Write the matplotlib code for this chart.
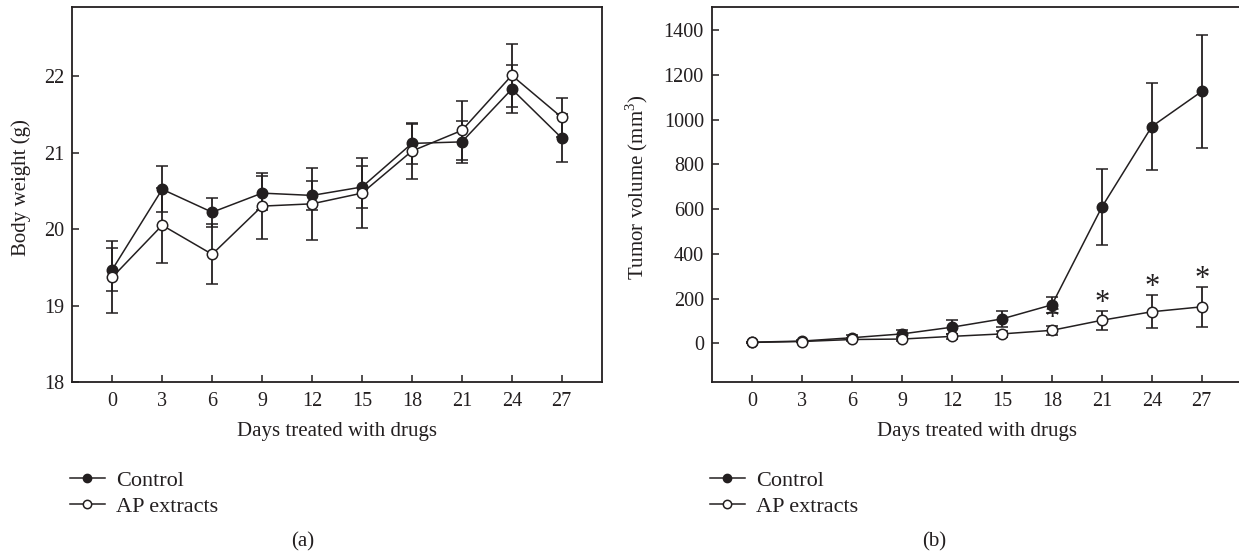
import matplotlib
matplotlib.use("Agg")
import matplotlib.pyplot as plt
from matplotlib.lines import Line2D

plt.rcParams['font.family'] = ['Liberation Serif', 'DejaVu Serif']
plt.rcParams['mathtext.fontset'] = 'custom'
plt.rcParams['mathtext.rm'] = 'Liberation Serif'

days = [0, 3, 6, 9, 12, 15, 18, 21, 24, 27]

# Panel (a): body weight (g)
bw_control = [19.47, 20.52, 20.22, 20.47, 20.44, 20.55, 21.12, 21.14, 21.83, 21.19]
bw_control_err = [0.28, 0.30, 0.19, 0.22, 0.19, 0.27, 0.27, 0.27, 0.31, 0.31]
bw_ap = [19.37, 20.05, 19.67, 20.30, 20.33, 20.47, 21.02, 21.29, 22.01, 21.46]
bw_ap_err = [0.47, 0.49, 0.39, 0.43, 0.47, 0.46, 0.36, 0.39, 0.41, 0.26]

# Panel (b): tumor volume (mm^3)
tv_control = [5, 10, 25, 42, 72, 109, 172, 609, 969, 1126]
tv_control_err = [3, 5, 12, 18, 31, 35, 35, 168, 193, 253]
tv_ap = [4, 8, 17, 19, 31, 42, 58, 103, 141, 163]
tv_ap_err = [3, 4, 8, 8, 12, 12, 21, 42, 73, 89]
star_days = [18, 21, 24, 27]

labels = ["Control", "AP extracts"]
xticks = days
bw_yticks = [18, 19, 20, 21, 22]
tv_yticks = [0, 200, 400, 600, 800, 1000, 1200, 1400]

INK = '#231f20'
W, H = 1239, 554
fig = plt.figure(figsize=(W / 100, H / 100), dpi=100)

def px_axes(l, r, t, b):
    return fig.add_axes([l / W, 1 - b / H, (r - l) / W, (b - t) / H])

ax1 = px_axes(72.3, 601.7, 7.3, 382.0)
ax2 = px_axes(712.3, 1241.7, 7.3, 382.0)

def draw(ax, y1, e1, y2, e2):
    common = dict(color=INK, lw=1.1, elinewidth=1.3, capsize=4.2, capthick=1.3,
                  ms=7.5, mew=1.1, mec=INK)
    ax.errorbar(days, y1, yerr=e1, fmt='-o', mfc=INK, zorder=3, **common)
    ax.errorbar(days, y2, yerr=e2, fmt='-o', mfc='white', zorder=4, **common)
    ax.set_xticks(xticks)
    ax.set_xlim(-2.4, 29.4)
    ax.tick_params(direction='in', length=5, width=1.1, colors=INK, labelsize=14.5,
                   pad=7)
    ax.tick_params(axis='y', pad=6)
    for s in ax.spines.values():
        s.set_linewidth(1.3)
        s.set_color(INK)
    ax.set_xlabel("Days treated with drugs", fontsize=15, color=INK, labelpad=8)
    h = [Line2D([], [], color=INK, lw=1.1, marker='o', ms=6, mfc=INK, mec=INK),
         Line2D([], [], color=INK, lw=1.1, marker='o', ms=6, mfc='white', mec=INK, mew=1.1)]
    ax.legend(h, labels, loc='upper left', bbox_to_anchor=(-0.005, -0.235),
              frameon=False, fontsize=16, handlelength=1.6, handletextpad=0.5,
              labelspacing=0.25, borderaxespad=0, borderpad=0, labelcolor=INK)

draw(ax1, bw_control, bw_control_err, bw_ap, bw_ap_err)
ax1.set_ylim(18, 22.9)
ax1.set_yticks(bw_yticks)
ax1.set_ylabel("Body weight (g)", fontsize=15, color=INK)
ax1.yaxis.set_label_coords(-0.078, 0.52)

draw(ax2, tv_control, tv_control_err, tv_ap, tv_ap_err)
ax2.set_ylim(-173, 1502)
ax2.set_yticks(tv_yticks)
ax2.set_ylabel("Tumor volume (mm$^3$)", fontsize=15, color=INK)
ax2.yaxis.set_label_coords(-0.118, 0.52)

for d in star_days:
    i = days.index(d)
    ax2.annotate("*", xy=(d, tv_ap[i] + tv_ap_err[i]), xytext=(0, -5),
                 textcoords='offset points', ha='center', va='bottom',
                 fontsize=22, color=INK)

fig.text(303 / W, 1 - 542 / H, "(a)", ha='center', va='center', fontsize=15, color=INK)
fig.text(934 / W, 1 - 542 / H, "(b)", ha='center', va='center', fontsize=15, color=INK)

fig.savefig("out.png", dpi=100)
